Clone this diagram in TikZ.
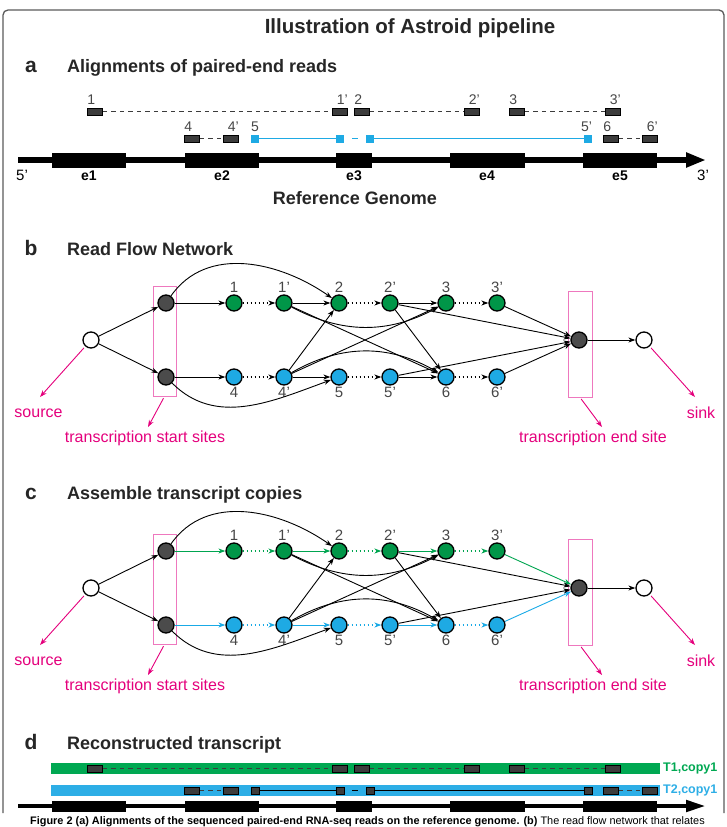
\documentclass[tikz,border=0pt]{standalone}
\usepackage{fontspec}
\setmainfont{Liberation Sans}
\usetikzlibrary{calc, positioning}
\usetikzlibrary{arrows.meta}

\definecolor{readgreen}{RGB}{0,150,72}
\definecolor{readblue}{RGB}{30,170,228}
\definecolor{pathgreen}{RGB}{0,165,80}
\definecolor{pathblue}{RGB}{25,170,230}
\definecolor{bargreen}{RGB}{0,168,82}
\definecolor{barblue}{RGB}{45,174,230}
\definecolor{sitepink}{RGB}{228,0,124}
\definecolor{boxpink}{RGB}{238,120,190}
\definecolor{readgray}{RGB}{60,60,60}
\definecolor{nodegray}{RGB}{75,75,75}
\definecolor{labgray}{RGB}{70,70,70}
\definecolor{framegray}{RGB}{90,90,90}

\tikzset{
  fnode/.style={circle, draw=black, line width=1.3pt, minimum size=16pt, inner sep=0pt},
  readbox/.style={draw=black, fill=readgray, line width=0.7pt, minimum width=15pt, minimum height=7pt, inner sep=0pt},
  bluesq/.style={fill=readblue, minimum width=8pt, minimum height=8pt, inner sep=0pt},
  readdash/.style={draw=readgray, line width=0.9pt, dash pattern=on 4.5pt off 4pt},
  numa/.style={font=\fontsize{14}{14}\selectfont, text=labgray, inner sep=0pt},
  numb/.style={font=\fontsize{15}{15}\selectfont, text=labgray, inner sep=0pt},
  pinklab/.style={font=\fontsize{16}{16}\selectfont, text=sitepink, inner sep=0pt},
  panelhead/.style={font=\fontsize{18}{18}\selectfont\bfseries, text=black!85, anchor=base west, inner sep=0pt},
  panelletter/.style={font=\fontsize{21}{21}\selectfont\bfseries, text=black!85, anchor=base, inner sep=0pt},
  tlab/.style={font=\fontsize{12.5}{12.5}\selectfont\bfseries, anchor=west, inner sep=0pt},
  flow/.style={-{Stealth[length=7pt,width=5pt]}, line width=0.9pt},
  dotflow/.style={flow, dash pattern=on 1.6pt off 2.4pt, line width=1.1pt},
  pinkarr/.style={-{Stealth[length=7pt,width=5pt]}, line width=0.9pt, draw=sitepink},
}

% genome with its five exons
\newcommand{\refgenome}[4]{% #1 y, #2 line width, #3 exon height, #4 head width
  \draw[line width=#2, -{Triangle[length=20pt,width=#4]}] (18,#1) -- (706,#1);
  \foreach \xa/\xb in {52/126,185/259,336/372,450/525,583/657}
    \fill (\xa,{#1-#3/2}) rectangle (\xb,{#1+#3/2});
}

% the paired-end reads, two rows
\newcommand{\pairedreads}[5]{% #1 prefix, #2 upper y, #3 lower y, #4 style of read 5, #5 colour of read 5
  \foreach \x/\n in {95/1, 340/1p, 362/2, 472/2p, 517/3, 613/3p}
    \node[readbox] (#1\n) at (\x,#2) {};
  \foreach \x/\n in {192/4, 231/4p, 611/6, 650/6p}
    \node[readbox] (#1\n) at (\x,#3) {};
  \foreach \x/\n in {255/5, 340/5a, 370/5b, 588/5p}
    \node[#4] (#1\n) at (\x,#3) {};
  \foreach \a/\b in {1/1p, 2/2p, 3/3p, 4/4p, 6/6p}
    \draw[readdash] (#1\a.east) -- (#1\b.west);
  \draw[#5, line width=1.1pt] (#15.east) -- (#15a.west);
  \draw[#5, line width=1.1pt, dash pattern=on 6pt off 8pt, dash phase=6pt] (#15a.east) -- (#15b.west);
  \draw[#5, line width=1.1pt] (#15b.east) -- (#15p.west);
}

% read flow network
\newcommand{\readflow}[4]{% #1 prefix, #2 y of upper row, #3 upper path colour, #4 lower path colour
  \node[fnode, fill=white] (#1src) at (91,#2+37) {};
  \node[fnode, fill=nodegray] (#1ta) at (166,#2) {};
  \node[fnode, fill=nodegray] (#1tb) at (166,#2+74) {};
  \node[fnode, fill=nodegray] (#1te) at (579,#2+37) {};
  \node[fnode, fill=white] (#1snk) at (644,#2+37) {};
  \node[draw=boxpink, line width=0.8pt, minimum width=23pt, minimum height=110pt, inner sep=0pt] (#1sbox) at (164.5,#2+38) {};
  \node[draw=boxpink, line width=0.8pt, minimum width=24pt, minimum height=106pt, inner sep=0pt] (#1ebox) at (580,#2+41) {};
  \foreach \x/\n/\t in {234/1/1, 284/2/1', 339/3/2, 390/4/2', 446/5/3, 497/6/3'} {
    \node[fnode, fill=readgreen] (#1g\n) at (\x,#2) {};
    \node[numb, above=1.5pt of #1g\n] (#1lg\n) {\t};
  }
  \foreach \x/\n/\t in {234/1/4, 284/2/4', 339/3/5, 390/4/5', 446/5/6, 497/6/6'} {
    \node[fnode, fill=readblue] (#1u\n) at (\x,#2+74) {};
    \node[numb, below=1.5pt of #1u\n] (#1lu\n) {\t};
  }
  \draw[flow] (#1src) -- (#1ta);
  \draw[flow] (#1src) -- (#1tb);
  \draw[flow] (#1te) -- (#1snk);
  \draw[flow, #3] (#1ta) -- (#1g1);
  \draw[dotflow, #3] (#1g1) -- (#1g2);
  \draw[flow, #3] (#1g2) -- (#1g3);
  \draw[dotflow, #3] (#1g3) -- (#1g4);
  \draw[flow, #3] (#1g4) -- (#1g5);
  \draw[dotflow, #3] (#1g5) -- (#1g6);
  \draw[flow, #3] (#1g6) -- (#1te);
  \draw[flow, #4] (#1tb) -- (#1u1);
  \draw[dotflow, #4] (#1u1) -- (#1u2);
  \draw[flow, #4] (#1u2) -- (#1u3);
  \draw[dotflow, #4] (#1u3) -- (#1u4);
  \draw[flow, #4] (#1u4) -- (#1u5);
  \draw[dotflow, #4] (#1u5) -- (#1u6);
  \draw[flow, #4] (#1u6) -- (#1te);
  \draw[flow] (#1ta) to[out=55, in=145] (#1g3);
  \draw[flow] (#1tb) to[out=-45, in=-160] (#1u3);
  \draw[flow] (#1g2) to[bend right=28] (#1g5);
  \draw[flow] (#1g2) -- (#1u5);
  \draw[flow] (#1u2) -- (#1g3);
  \draw[flow] (#1u2) -- (#1g5);
  \draw[flow] (#1u2) to[bend left=30] (#1u5);
  \draw[flow] (#1g4) -- (#1u5);
  \draw[flow] (#1g4) -- (#1te);
  \draw[flow] (#1u4) -- (#1te);
  % pink callouts
  \node[pinklab] (#1srclab) at (38.5,#2+110) {source};
  \node[pinklab] (#1sslab) at (145,#2+135) {transcription start sites};
  \node[pinklab] (#1eslab) at (593,#2+135) {transcription end site};
  \node[pinklab] (#1snklab) at (701,#2+110) {sink};
  \coordinate (#1srcp) at (40,#2+94);
  \coordinate (#1ssp) at (148,#2+124);
  \coordinate (#1esp) at (602,#2+124);
  \coordinate (#1snkp) at (695,#2+94);
  \draw[pinkarr, shorten <=2pt] (#1src) -- (#1srcp);
  \draw[pinkarr, shorten <=2pt] (#1sbox.south) -- (#1ssp);
  \draw[pinkarr, shorten <=2pt] (#1ebox.south) -- (#1esp);
  \draw[pinkarr, shorten <=2pt] (#1snk) -- (#1snkp);
}

\begin{document}
\begin{tikzpicture}[x=1pt, y=-1pt]
\useasboundingbox (0,0) rectangle (727,827);

\draw[framegray, line width=1.3pt, rounded corners=5pt] (3,813) -- (3,10) -- (724,10) -- (724,813);

\node[font=\fontsize{20.5}{20.5}\selectfont\bfseries, text=black!85, anchor=base, inner sep=0pt] (title) at (410,33) {Illustration of Astroid pipeline};

% a
\node[panelletter] (pa) at (31,72) {a};
\node[panelhead] (ha) at (67,72) {Alignments of paired-end reads};
\pairedreads{a}{111.5}{138.5}{bluesq}{readblue}
\foreach \n/\t in {1/1, 2/2, 3/3, 4/4, 5/5, 6/6}
  \node[numa, anchor=south west, yshift=2.5pt] (la\n) at (a\n.north west) {\t};
\foreach \n/\t in {1p/1', 2p/2', 3p/3', 4p/4', 5p/5', 6p/6'}
  \node[numa, anchor=south east, yshift=2.5pt] (la\n) at (a\n.north east) {\t};
\refgenome{160}{5.5pt}{15}{14pt}
\node[font=\fontsize{15}{15}\selectfont, inner sep=0pt] (five) at (22,175) {5'};
\node[font=\fontsize{15}{15}\selectfont, inner sep=0pt] (three) at (703,175) {3'};
\foreach \x/\e in {89/e1, 222/e2, 354/e3, 487/e4, 620/e5}
  \node[font=\fontsize{14}{14}\selectfont\bfseries, inner sep=0pt] (\e) at (\x,176) {\e};
\node[font=\fontsize{18}{18}\selectfont\bfseries, text=black!85, inner sep=0pt] (refg) at (355,198) {Reference Genome};

% b
\node[panelletter] (pb) at (31,255) {b};
\node[panelhead] (hb) at (67,255) {Read Flow Network};
\readflow{b}{303}{black}{black}

% c
\node[panelletter] (pc) at (31,499) {c};
\node[panelhead] (hc) at (67,499) {Assemble transcript copies};
\readflow{c}{551}{pathgreen}{pathblue}

% d
\node[panelletter] (pd) at (31,749) {d};
\node[panelhead] (hd) at (67,749) {Reconstructed transcript};
\fill[bargreen] (51,763) rectangle (660,774);
\fill[barblue] (51,785) rectangle (660,796);
\pairedreads{d}{768.5}{790.5}{readbox, minimum width=8pt}{black}
\node[tlab, text=bargreen] (t1) at (663,768.5) {T1,copy1};
\node[tlab, text=barblue] (t2) at (663,790.5) {T2,copy1};
\refgenome{806}{4.5pt}{11}{11pt}

\node[font=\fontsize{10.9}{10.9}\selectfont, anchor=base west, inner sep=0pt] (caption) at (30,824)
  {\textbf{Figure 2 (a) Alignments of the sequenced paired-end RNA-seq reads on the reference genome. (b)} The read flow network that relates};
\end{tikzpicture}
\end{document}
